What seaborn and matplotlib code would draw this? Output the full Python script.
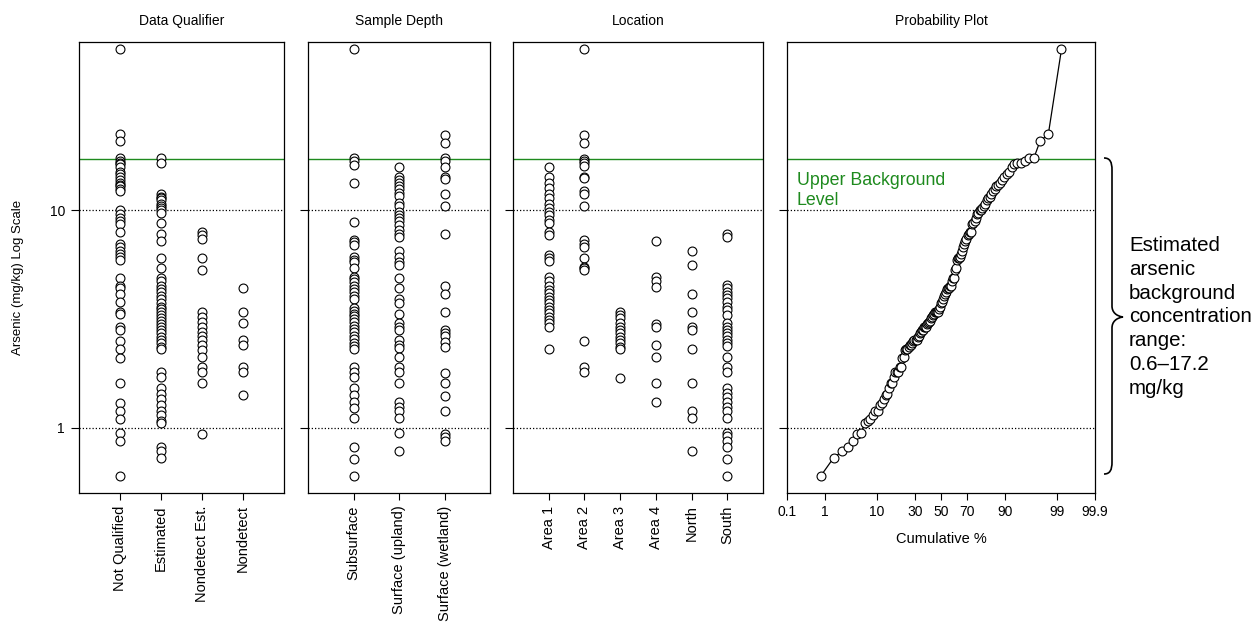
import numpy as np
import pandas as pd
import matplotlib
matplotlib.use("Agg")
import matplotlib.pyplot as plt
from matplotlib.path import Path
from matplotlib.patches import PathPatch
from matplotlib.ticker import NullLocator
import seaborn as sns
from statistics import NormalDist

# ---- arsenic results (mg/kg), grouped by data qualifier ----
not_qualified = [54.6, 22.3, 20.7, 17.3, 16.8, 16.5, 16.2, 15.7, 15.0, 14.6, 14.2, 13.8,
                 13.3, 13.0, 12.9, 12.5, 12.2, 9.97, 9.6, 9.2, 8.9, 8.6, 7.9, 7.0, 6.8,
                 6.5, 6.3, 6.1, 5.9, 4.9, 4.5, 4.4, 4.1, 3.8, 3.4, 3.35, 2.9, 2.8, 2.5,
                 2.3, 2.1, 1.6, 1.3, 1.2, 1.1, 0.95, 0.87, 0.60]
estimated = [17.3, 16.5, 11.9, 11.5, 11.3, 11.1, 10.7, 10.4, 10.2, 10.0, 9.7, 8.7, 7.8,
             7.2, 6.0, 5.4, 4.9, 4.7, 4.5, 4.35, 4.2, 4.05, 3.9, 3.75, 3.6, 3.5, 3.4,
             3.3, 3.2, 3.1, 3.0, 2.92, 2.82, 2.72, 2.62, 2.53, 2.45, 2.36, 2.30, 1.81,
             1.71, 1.52, 1.43, 1.36, 1.27, 1.20, 1.15, 1.08, 1.05, 0.82, 0.78, 0.73]
nondetect_est = [7.9, 7.7, 7.4, 6.0, 5.3, 3.4, 3.24, 3.07, 2.91, 2.76, 2.64, 2.53, 2.40,
                 2.28, 2.11, 1.91, 1.81, 1.60, 0.935]
nondetect = [4.4, 3.4, 3.02, 2.53, 2.40, 1.91, 1.81, 1.41]
qualifier_labels = ["Not Qualified", "Estimated", "Nondetect Est.", "Nondetect"]

# ---- grouped by sample depth ----
subsurface = [54.6, 17.3, 16.7, 16.1, 13.3, 8.8, 7.3, 7.1, 6.9, 6.1, 5.9, 5.75, 5.4,
              4.95, 4.8, 4.65, 4.5, 4.35, 4.2, 4.05, 3.9, 3.55, 3.45, 3.35, 3.25, 3.15,
              3.05, 2.95, 2.85, 2.75, 2.65, 2.55, 2.45, 2.37, 2.30, 1.91, 1.81, 1.72,
              1.52, 1.42, 1.32, 1.23, 1.11, 0.815, 0.72, 0.60]
surface_upland = [15.7, 14.2, 13.8, 13.3, 12.9, 12.5, 12.0, 11.6, 10.8, 10.4, 9.8, 9.5,
                  9.2, 8.9, 8.5, 8.1, 7.8, 7.5, 6.5, 6.1, 5.8, 5.6, 4.9, 4.4, 3.9, 3.76,
                  3.33, 3.04, 2.91, 2.81, 2.53, 2.40, 2.32, 2.11, 1.91, 1.81, 1.60, 1.31,
                  1.25, 1.20, 1.11, 0.95, 0.78]
surface_wetland = [22.0, 20.4, 17.3, 16.7, 15.8, 14.2, 13.9, 11.9, 10.4, 7.8, 4.5, 4.1,
                   3.4, 2.81, 2.72, 2.63, 2.49, 2.34, 1.79, 1.60, 1.40, 1.20, 0.94, 0.91,
                   0.87]
depth_labels = ["Subsurface", "Surface (upland)", "Surface (wetland)"]

# ---- grouped by location ----
area_1 = [15.7, 14.2, 13.3, 12.6, 11.9, 11.3, 10.7, 10.2, 9.8, 9.5, 9.0, 8.7, 7.9, 7.7,
          6.2, 6.0, 5.85, 4.92, 4.74, 4.48, 4.30, 4.15, 4.0, 3.87, 3.73, 3.60, 3.48,
          3.36, 3.24, 3.13, 3.02, 2.92, 2.30]
area_2 = [54.6, 22.0, 20.4, 17.2, 16.8, 16.4, 15.9, 14.2, 14.0, 12.2, 11.9, 10.4, 7.3,
          7.0, 6.8, 6.0, 5.5, 5.4, 5.3, 2.50, 1.91, 1.81]
area_3 = [3.41, 3.30, 3.19, 3.02, 2.92, 2.82, 2.72, 2.62, 2.53, 2.45, 2.36, 2.30, 1.70]
area_4 = [7.2, 4.92, 4.70, 4.44, 3.0, 2.92, 2.40, 2.11, 1.60, 1.31]
north = [6.5, 5.6, 4.1, 3.4, 2.91, 2.81, 2.3, 1.6, 1.20, 1.11, 0.78]
south = [7.8, 7.5, 4.53, 4.37, 4.22, 4.07, 3.93, 3.80, 3.60, 3.48, 3.30, 3.02, 2.92,
         2.82, 2.72, 2.63, 2.53, 2.45, 2.38, 2.11, 1.91, 1.81, 1.52, 1.44, 1.39, 1.31,
         1.25, 1.20, 1.11, 0.95, 0.92, 0.87, 0.82, 0.72, 0.60]
location_labels = ["Area 1", "Area 2", "Area 3", "Area 4", "North", "South"]

# ---- probability axis and reference levels ----
prob_ticks = [0.1, 1, 10, 30, 50, 70, 90, 99, 99.9]
prob_tick_labels = ["0.1", "1", "10", "30", "50", "70", "90", "99", "99.9"]
upper_background = 17.2
lower_background = 0.6
ref_levels = [1, 10]

GREEN = "#1e8a1e"
FONT = ["Liberation Sans", "DejaVu Sans"]

sns.set_style("ticks")
plt.rcParams["font.family"] = FONT
plt.rcParams["axes.linewidth"] = 0.9
plt.rcParams["xtick.major.width"] = 0.8
plt.rcParams["ytick.major.width"] = 0.8
for key in ("text.color", "axes.labelcolor", "xtick.color", "ytick.color",
            "axes.edgecolor"):
    plt.rcParams[key] = "black"

W, H = 1260, 626
fig = plt.figure(figsize=(W / 100, H / 100), dpi=100)

TOP, BOTTOM = 42, 493


def add_axes(left_px, right_px):
    return fig.add_axes([left_px / W, (H - BOTTOM) / H,
                         (right_px - left_px) / W, (BOTTOM - TOP) / H])


def style_value_axis(ax, show_labels):
    ax.set_yscale("log")
    ax.set_ylim(0.503, 59)
    ax.set_yticks(ref_levels)
    ax.set_yticklabels(["1", "10"] if show_labels else ["", ""], fontsize=10)
    ax.yaxis.set_minor_locator(NullLocator())
    ax.tick_params(axis="y", direction="out", length=6, pad=4, colors="black")
    for lvl in ref_levels:
        ax.axhline(lvl, color="black", ls=(0, (1, 1.6)), lw=0.9, zorder=1)
    ax.axhline(upper_background, color=GREEN, lw=1.0, zorder=1)
    for s in ax.spines.values():
        s.set_color("black")
        s.set_visible(True)
    ax.set_xlabel("")
    ax.set_ylabel("")


def add_title(ax, title):
    ax.text(0.5, 1 + 21 / (BOTTOM - TOP), title, transform=ax.transAxes,
            ha="center", va="center", fontsize=10)


def strip_panel(ax, groups, labels, title, show_labels=False):
    df = pd.DataFrame({
        "group": np.repeat(labels, [len(g) for g in groups]),
        "arsenic": np.concatenate(groups),
    })
    sns.stripplot(data=df, x="group", y="arsenic", order=labels, jitter=False,
                  color="white", edgecolor="black", linewidth=0.8, size=6.4,
                  ax=ax, zorder=3)
    style_value_axis(ax, show_labels)
    ax.set_xlim(-1, len(labels))
    ax.set_xticks(range(len(labels)))
    ax.set_xticklabels(labels, rotation=90, fontsize=10.5)
    ax.tick_params(axis="x", direction="out", length=5, pad=4, colors="black")
    add_title(ax, title)


ax1 = add_axes(79, 284)
ax2 = add_axes(308, 490)
ax3 = add_axes(513, 763)
ax4 = add_axes(787, 1095)

strip_panel(ax1, [not_qualified, estimated, nondetect_est, nondetect],
            qualifier_labels, "Data Qualifier", show_labels=True)
strip_panel(ax2, [subsurface, surface_upland, surface_wetland],
            depth_labels, "Sample Depth")
strip_panel(ax3, [area_1, area_2, area_3, area_4, north, south],
            location_labels, "Location")

# ---- normal probability plot of all results ----
nd = NormalDist()
values = np.sort(np.concatenate([not_qualified, estimated, nondetect_est, nondetect]))
n = len(values)
plot_pos = np.arange(1, n + 1) / (n + 1)
zscores = np.array([nd.inv_cdf(p) for p in plot_pos])
sns.lineplot(x=zscores, y=values, sort=False, estimator=None, color="black", lw=0.9,
             marker="o", markersize=6.4, markerfacecolor="white",
             markeredgecolor="black", markeredgewidth=0.8, ax=ax4, zorder=3)
style_value_axis(ax4, False)
zlim = nd.inv_cdf(0.001)
ax4.set_xlim(zlim, -zlim)
ax4.set_xticks([nd.inv_cdf(p / 100) for p in prob_ticks])
ax4.set_xticklabels(prob_tick_labels, fontsize=10)
ax4.tick_params(axis="x", direction="out", length=5, pad=4, colors="black")
ax4.set_xlabel("Cumulative %", fontsize=10.5, labelpad=9)
add_title(ax4, "Probability Plot")
ax4.text(10 / 308, 1 - (172 - TOP) / (BOTTOM - TOP), "Upper Background\nLevel",
         transform=ax4.transAxes, ha="left", va="top", color=GREEN,
         fontsize=12.8, linespacing=1.2)

fig.text(18 / W, (H - 277) / H, "Arsenic (mg/kg) Log Scale", rotation=90,
         ha="center", va="center", fontsize=9.5)

# ---- brace spanning the background range ----
def fx(px):
    return px / W


def fy(py):
    return (H - py) / H


brace_pts = [(1104, 158), (1110, 158), (1112, 162), (1112, 170),
             (1112, 306),
             (1112, 312), (1116, 316), (1123, 317),
             (1116, 318), (1112, 322), (1112, 328),
             (1112, 462),
             (1112, 470), (1110, 474), (1104, 474)]
codes = [Path.MOVETO, Path.CURVE4, Path.CURVE4, Path.CURVE4,
         Path.LINETO,
         Path.CURVE4, Path.CURVE4, Path.CURVE4,
         Path.CURVE4, Path.CURVE4, Path.CURVE4,
         Path.LINETO,
         Path.CURVE4, Path.CURVE4, Path.CURVE4]
brace = Path([(fx(x), fy(y)) for x, y in brace_pts], codes)
fig.patches.append(PathPatch(brace, transform=fig.transFigure, fill=False,
                             edgecolor="black", lw=1.2))

fig.text(1129 / W, fy(317),
         "Estimated\narsenic\nbackground\nconcentration\nrange:\n"
         f"{lower_background}\u2013{upper_background}\nmg/kg",
         ha="left", va="center", fontsize=14.8, linespacing=1.32)

fig.savefig("out.png", dpi=100)
